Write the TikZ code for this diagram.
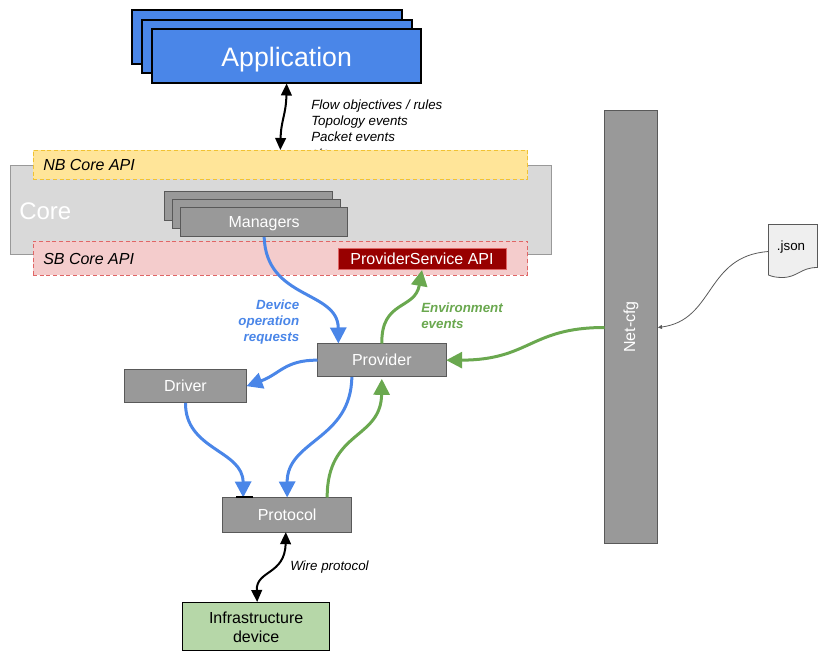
\documentclass[tikz,border=0pt]{standalone}
\usepackage{fontspec}
\setmainfont{Liberation Sans}
\usetikzlibrary{arrows.meta,calc}
\definecolor{appblue}{HTML}{4A86E8}
\definecolor{boxgrey}{HTML}{999999}
\definecolor{edgegrey}{HTML}{595959}
\definecolor{coregrey}{HTML}{D9D9D9}
\definecolor{nbyellow}{HTML}{FFE599}
\definecolor{nbedge}{HTML}{F1C232}
\definecolor{sbpink}{HTML}{F4CCCC}
\definecolor{sbedge}{HTML}{E06666}
\definecolor{darkred}{HTML}{980000}
\definecolor{evgreen}{HTML}{6AA84F}
\definecolor{devgreen}{HTML}{B6D7A8}
\definecolor{paper}{HTML}{EFEFEF}
\tikzset{
  x=0.75pt,y=-0.75pt,
  pos box/.style={anchor=north west,inner sep=0pt,outer sep=0pt},
  capcentred/.style={text height=#1,text depth=0pt},
  appbox/.style={pos box,draw=black,line width=1.5pt,fill=appblue,text=white,capcentred=15.2pt,font=\fontsize{20}{24}\selectfont},
  greybox/.style={pos box,draw=edgegrey,line width=0.75pt,fill=boxgrey,text=white,capcentred=8.7pt,font=\fontsize{12}{14}\selectfont},
  apibox/.style={pos box,densely dashed,line width=0.5pt},
  apilabel/.style={anchor=west,inner sep=0pt,font=\fontsize{12}{14}\selectfont\itshape},
  devflow/.style={draw=appblue,line width=2.25pt,-{Triangle[length=12pt,width=12pt]}},
  envflow/.style={draw=evgreen,line width=2.25pt,-{Triangle[length=12pt,width=12pt]}},
  wireflow/.style={draw=black,line width=1.5pt,{Triangle[length=9pt,width=8pt]}-{Triangle[length=9pt,width=8pt]}},
  flowlabel/.style={inner sep=0pt,font=\fontsize{10}{12}\selectfont\itshape},
  flowlabelbold/.style={inner sep=0pt,font=\fontsize{10}{12}\selectfont\bfseries\itshape},
}
\begin{document}
\begin{tikzpicture}
\useasboundingbox (0,0) rectangle (825,660);

% Applications
\node[appbox,minimum width=202.5pt,minimum height=40.5pt] (app1) at (132,10) {};
\node[appbox,minimum width=202.5pt,minimum height=40pt] (app2) at (142,20) {};
\node[appbox,minimum width=202pt,minimum height=40.5pt] (app3) at (152,29.5) {Application};

% Core and its API strips
\node[pos box,draw=boxgrey,line width=0.75pt,fill=coregrey,minimum width=406pt,minimum height=66.5pt] (core) at (10,165.5) {};
\node[anchor=west,inner sep=0pt,text=white,font=\fontsize{18}{22}\selectfont] (corelabel) at (19,211) {Core};

\node[flowlabel,anchor=north west,align=left] (events) at (311,99.5) {Flow objectives / rules\\Topology events\\Packet events\\etc.};
\node[apibox,draw=nbedge,fill=nbyellow,minimum width=371pt,minimum height=21.75pt] (nb) at (33,150) {};
\node[apilabel] (nblabel) at (43,165) {NB Core API};
\node[apibox,draw=sbedge,fill=sbpink,minimum width=371pt,minimum height=25.5pt] (sb) at (33,241) {};
\node[apilabel] (sblabel) at (43,258.5) {SB Core API};

\node[greybox,minimum width=126pt,minimum height=22pt] (mgr1) at (164,191.5) {};
\node[greybox,minimum width=126pt,minimum height=22pt] (mgr2) at (172.5,199.5) {};
\node[greybox,minimum width=125.5pt,minimum height=22pt] (mgr3) at (180.5,207.5) {Managers};

\node[pos box,draw=sbedge,line width=0.5pt,fill=darkred,text=white,minimum width=126pt,minimum height=16pt,capcentred=8.7pt,font=\fontsize{12}{14}\selectfont] (ps) at (338,248) {ProviderService API};

% Lower components
\node[greybox,minimum width=96.5pt,minimum height=25pt] (provider) at (317.5,343.5) {Provider};
\node[greybox,minimum width=91.5pt,minimum height=25pt] (driver) at (124.5,369.5) {Driver};
\node[greybox,minimum width=97pt,minimum height=26pt] (protocol) at (222.5,497.5) {Protocol};
\node[pos box,draw=black,line width=0.75pt,fill=devgreen,align=center,minimum width=110.5pt,minimum height=36pt,font=\fontsize{12}{14.25}\selectfont] (device) at (182.5,602) {\rule{0pt}{10pt}Infrastructure\\device};

% Network configuration column
\node[pos box,draw=edgegrey,line width=0.75pt,fill=boxgrey,minimum width=40pt,minimum height=324pt] (netcfg) at (604.5,111) {};
\node[rotate=90,text=white,inner sep=0pt,font=\fontsize{12}{14}\selectfont] (netlabel) at (631,327) {Net-cfg};

% Configuration file
\coordinate (jsonnw) at (768.5,224.5);
\draw[draw=edgegrey,line width=0.6pt,fill=paper] (jsonnw) -- (817.5,224.5) -- (817.5,267.5)
  .. controls (800,267.5) and (798,277.5) .. (782,277.5)
  .. controls (776,277.5) and (772,276.5) .. (768.5,275) -- cycle;
\node[inner sep=0pt,font=\fontsize{10}{12}\selectfont] (json) at (791,247) {.json};
\coordinate (jsonleft) at (768.5,251.5);
\coordinate (netright) at (658,327.5);
\draw[draw=edgegrey,line width=0.6pt,-{Triangle[length=3pt,width=3pt]}]
  (jsonleft) .. controls (705,256) and (715,320) .. (netright);

% Control and data flows
\draw[wireflow] (app3.south) .. controls (286,115) and (281,120) .. (nb.north);
\draw[devflow] (mgr3.south) .. controls (266,300) and (338,290) .. ([xshift=-32.6pt]provider.north);
\draw[devflow] (provider.west) .. controls (285,360) and (280,374) .. (driver.east);
\draw[devflow] ([xshift=-22.5pt]provider.south) .. controls (351,440) and (287,440) .. (protocol.north);
\draw[devflow] (driver.south) .. controls (185,450) and (243,450) .. ([xshift=-33pt]protocol.north);
\draw[envflow] ([xshift=30pt]protocol.north) .. controls (327,430) and (381,440) .. ([yshift=-1.5pt]provider.south);
\draw[envflow] (provider.north) .. controls (381,300) and (415,310) .. (422,270);
\draw[envflow] (netcfg.west |- 0,327.5) .. controls (530,327.5) and (530,360) .. (provider.east);
\draw[wireflow] ([xshift=-1pt]protocol.south) .. controls (285,575) and (256,570) .. ([xshift=0.75pt]device.north);
\draw[black,line width=1.5pt] (236,496.5) -- (252.5,496.5);

% Flow labels
\node[flowlabelbold,anchor=north east,align=right,text=appblue] (devlabel) at (299.5,299.5) {Device\\operation\\requests};
\node[flowlabelbold,anchor=north west,align=left,text=evgreen] (envlabel) at (421,302.5) {Environment\\events};
\node[flowlabel,anchor=west] (wirelabel) at (290,567.5) {Wire protocol};
\end{tikzpicture}
\end{document}
